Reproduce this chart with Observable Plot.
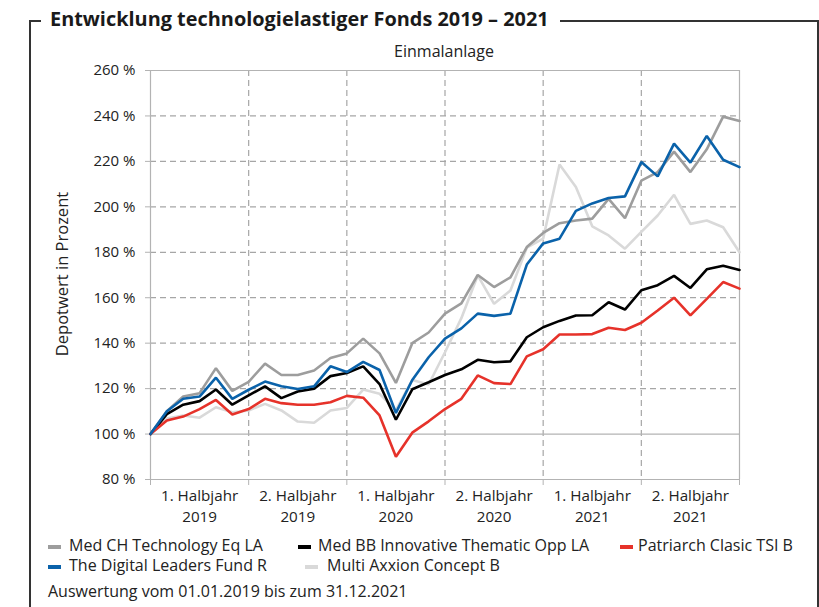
<!DOCTYPE html>
<html><head><meta charset="utf-8">
<script src="https://cdn.jsdelivr.net/npm/d3@7"></script>
<script src="https://cdn.jsdelivr.net/npm/@observablehq/plot@0.6"></script>
<style>
body{margin:0;background:#fff;font-family:"Open Sans",sans-serif;color:#222;}
#wrap{position:relative;width:819px;height:607px;overflow:hidden;background:#fff;}
.ln{position:absolute;background:#333;}
.t{position:absolute;white-space:nowrap;line-height:1;}
.sw{position:absolute;width:13px;height:4px;}
#chart{position:absolute;left:0;top:0;}
</style></head><body>
<div id="wrap">
  <div class="ln" style="left:29px;top:20px;width:1.5px;height:600px"></div>
  <div class="ln" style="left:29px;top:20px;width:12px;height:1.5px"></div>
  <div class="ln" style="left:560px;top:20px;width:258px;height:1.5px"></div>
  <div class="ln" style="left:817px;top:20px;width:1.5px;height:600px"></div>
  <div class="t" id="title" style="left:50px;top:9px;font-size:19.9px;font-weight:700;color:#1a1a1a">Entwicklung technologielastiger Fonds 2019 – 2021</div>
  <div id="chart"></div>
  <div class="t" style="left:444px;top:43px;font-size:16px;transform:translateX(-50%)">Einmalanlage</div>
  <div class="t" style="left:62px;top:274px;font-size:16.5px;transform:translate(-50%,-50%) rotate(-90deg)">Depotwert in Prozent</div>
  <div id="legend"></div>
  <div class="t" style="left:48px;top:583px;font-size:16px">Auswertung vom 01.01.2019 bis zum 31.12.2021</div>
</div>
<script>
const seriesNames = ["Med CH Technology Eq LA","Med BB Innovative Thematic Opp LA","Patriarch Clasic TSI B","The Digital Leaders Fund R","Multi Axxion Concept B"];
const seriesColors = ["#9d9d9d","#000000","#e6322a","#0a62aa","#d9d9d9"];
const halfYearLabels = ["1. Halbjahr\n2019","2. Halbjahr\n2019","1. Halbjahr\n2020","2. Halbjahr\n2020","1. Halbjahr\n2021","2. Halbjahr\n2021"];
const yTicks = [80,100,120,140,160,180,200,220,240,260];

const medCH = [100,110,116.5,118,129,119,123,131,126,126,128,133.5,135.5,142,135.5,122.5,140,144.7,153,157.5,170,164.7,169,182.3,188.5,192.8,194,194.8,203.5,195,211.5,215.3,224.3,215.3,225.3,239.7,237.8];
const medBB = [100,108.8,112.9,114.5,119.6,112.9,117,121,115.8,118.7,120,125.5,126.9,129.8,122,106.3,119.7,122.8,126,128.5,132.7,131.6,132,142.6,147,149.8,152.2,152.3,158,154.8,163.3,165.5,169.6,164.3,172.5,174.1,172.2];
const patriarch = [100,106,107.7,111,115,108.6,111,115.5,113.6,112.9,112.9,114,116.8,116,108.2,90,100.6,105.6,111,115.5,125.8,122.4,122,134.2,137.3,143.8,143.8,144,146.8,145.8,149,154.4,160,152.2,159.5,166.9,164];
const digital = [100,110,115.5,116.5,124.8,115.5,119.5,123.1,121,119.8,121,129.8,127.3,131.8,128.2,109.3,123.8,133.8,142,146.5,153,152,153,174.6,183.9,186,198.2,201.5,203.9,204.6,219.7,213.4,227.8,219.5,231.2,220.7,217.5];
const axxion = [100,106.8,108.2,107.2,111.8,109.6,110.4,113.3,110.4,105.5,105,110.4,111.5,119.6,117.7,110.5,123.8,121.8,136,151,169.8,157.3,163.2,182,186,218.6,208.7,191.4,187.4,181.6,189,196.2,205.3,192.5,194,191,180];

const allSeries = [medCH, medBB, patriarch, digital, axxion];
const drawOrder = [4,0,1,2,3];
const data = drawOrder.flatMap(k => allSeries[k].map((v,i)=>({i, v, name: seriesNames[k]})));

const chart = Plot.plot({
  width: 819, height: 530,
  marginLeft: 150, marginRight: 80, marginTop: 70, marginBottom: 51,
  style: {fontFamily: "'Open Sans', sans-serif", fontSize: "15px", color: "#222", background: "transparent", overflow: "visible"},
  x: {domain: [0, 36], axis: null},
  y: {domain: [80, 260], axis: null},
  color: {domain: seriesNames, range: seriesColors},
  marks: [
    Plot.ruleY(yTicks.filter(d => d > 100 && d < 260), {stroke: "#a6a6a6", strokeDasharray: "6,4", strokeWidth: 1.2}),
    Plot.ruleX([6,12,18,24,30], {stroke: "#a6a6a6", strokeDasharray: "6,4", strokeWidth: 1.2}),
    Plot.ruleY([100, 260], {stroke: "#b3b3b3", strokeWidth: 1.2}),
    Plot.ruleX([36], {stroke: "#b3b3b3", strokeWidth: 1.2}),
    Plot.ruleX([0], {stroke: "#b3b3b3", strokeWidth: 1.2}),
    Plot.ruleY([80], {stroke: "#b3b3b3", strokeWidth: 1.2}),
    Plot.axisY(yTicks, {label: null, tickSize: 5, tickPadding: 10, stroke: "#b3b3b3", tickFormat: d => d + " %", fill: "#222", fontSize: 15}),
    Plot.axisX([0,6,12,18,24,30,36], {label: null, tickSize: 6, stroke: "#b3b3b3", tickFormat: () => ""}),
    Plot.axisX([3,9,15,21,27,33], {label: null, tickSize: 0, tickPadding: 7, tickFormat: (d,i) => halfYearLabels[i], fontSize: 15.2, lineHeight: 1.37, fill: "#222"}),
    Plot.line(data, {x: "i", y: "v", z: "name", stroke: "name", strokeWidth: 2.6, strokeLinejoin: "miter"})
  ]
});
document.getElementById("chart").appendChild(chart);

const legendPos = [[48,537],[298,537],[620,537],[48,557],[305,557]];
const legendTextX = [69,318,638,69,327];
const lg = document.getElementById("legend");
seriesNames.forEach((n,k) => {
  const s = document.createElement("div");
  s.className = "sw";
  s.style.left = legendPos[k][0] + "px";
  s.style.top = (legendPos[k][1] + 8) + "px";
  s.style.background = seriesColors[k];
  lg.appendChild(s);
  const t = document.createElement("div");
  t.className = "t";
  t.style.left = legendTextX[k] + "px";
  t.style.top = legendPos[k][1] + "px";
  t.style.fontSize = "16px";
  t.textContent = n;
  lg.appendChild(t);
});
</script>
</body></html>
